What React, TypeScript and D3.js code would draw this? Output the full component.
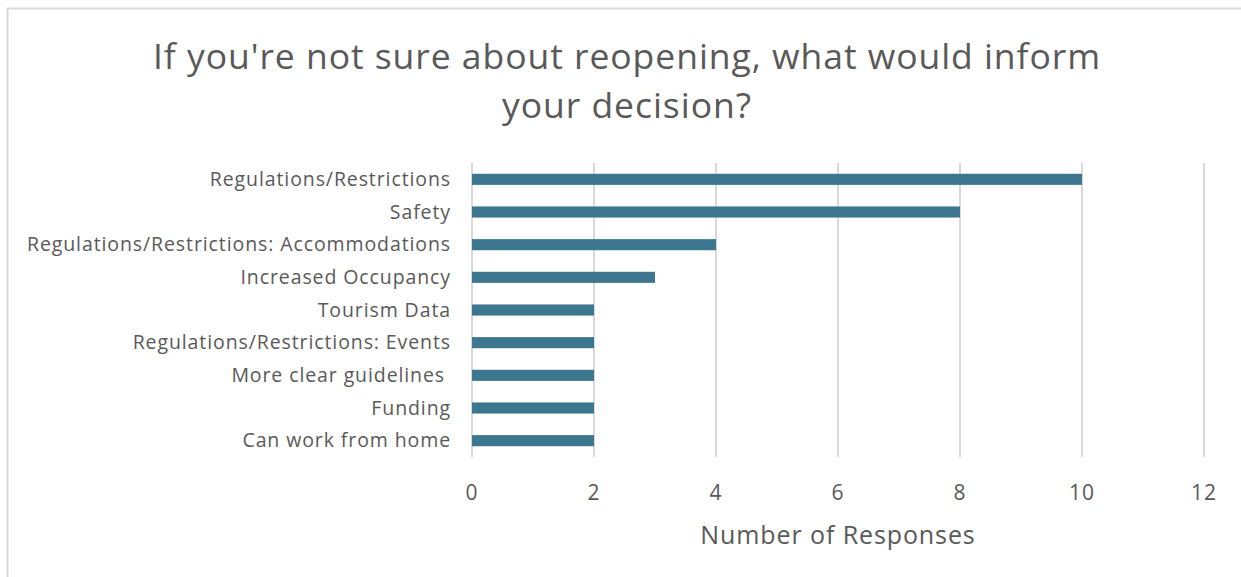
import { scaleLinear, scaleBand, range } from "d3";

const categories = [
  "Regulations/Restrictions",
  "Safety",
  "Regulations/Restrictions: Accommodations",
  "Increased Occupancy",
  "Tourism Data",
  "Regulations/Restrictions: Events",
  "More clear guidelines ",
  "Funding",
  "Can work from home",
];
const responses = [10, 8, 4, 3, 2, 2, 2, 2, 2];
const xTicks = [0, 2, 4, 6, 8, 10, 12];

const W = 1241;
const H = 577;
const FONT = "'Open Sans', sans-serif";
const TEXT = "#595959";
const BAR = "#3C768F";

export default function App() {
  const x = scaleLinear().domain([0, 12]).range([472, 1204]);
  const y = scaleBand<number>()
    .domain(range(categories.length))
    .range([163, 457])
    .paddingInner(0.66)
    .paddingOuter(0.33);

  return (
    <svg
      width={W}
      height={H}
      style={{ position: "absolute", left: 0, top: 0, background: "#fff" }}
      fontFamily={FONT}
    >
      <rect x={7.5} y={8.5} width={W + 10} height={H + 10} fill="#fff" stroke="#d9d9d9" strokeWidth={2} />

      <g fontSize={35.5} fill={TEXT} letterSpacing={0.95} textAnchor="middle">
        <text x={627} y={69}>
          If you're not sure about reopening, what would inform
        </text>
        <text x={627} y={118}>
          your decision?
        </text>
      </g>

      {xTicks.map((t) => (
        <line key={t} x1={x(t)} x2={x(t)} y1={163} y2={457} stroke="#d9d9d9" strokeWidth={2} />
      ))}

      {responses.map((v, i) => (
        <rect key={i} x={x(0)} y={y(i)} width={x(v) - x(0)} height={y.bandwidth()} fill={BAR} />
      ))}

      {categories.map((c, i) => (
        <text
          key={i}
          x={451}
          y={(y(i) ?? 0) + y.bandwidth() / 2}
          dy="0.35em"
          textAnchor="end"
          fontSize={19.5}
          letterSpacing={0.9}
          fill={TEXT}
          style={{ whiteSpace: "pre" }}
        >
          {c}
        </text>
      ))}

      {xTicks.map((t) => (
        <text key={t} x={x(t)} y={500} textAnchor="middle" fontSize={21} letterSpacing={1} fill={TEXT}>
          {t}
        </text>
      ))}

      <text x={838} y={544} textAnchor="middle" fontSize={25} letterSpacing={0.9} fill={TEXT}>
        Number of Responses
      </text>
    </svg>
  );
}
